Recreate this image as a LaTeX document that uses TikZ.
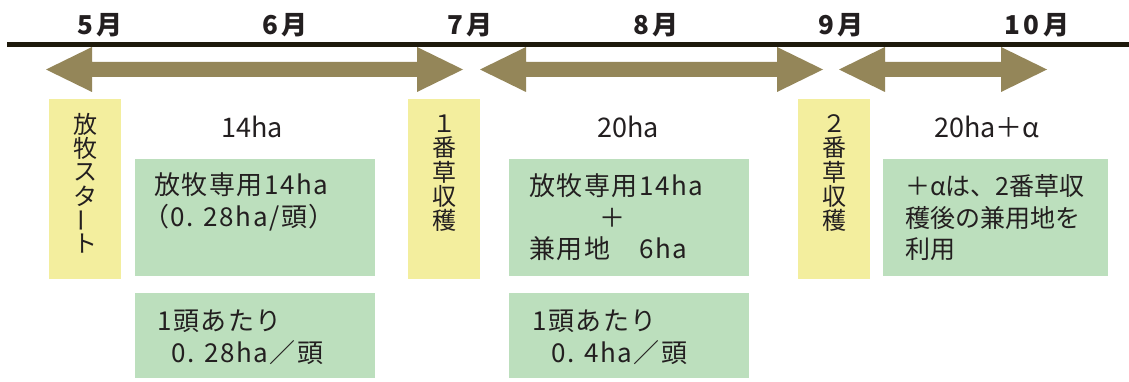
\documentclass[tikz,border=0pt]{standalone}
\usepackage{fontspec}
\usepackage{graphicx}
\newfontfamily\jp{Noto Sans CJK JP}
\newfontfamily\jpsp{Noto Sans CJK JP}[LetterSpace=6]
\newfontfamily\jpm{Noto Sans CJK JP}[LetterSpace=15]
\definecolor{arrowc}{RGB}{148,134,89}
\definecolor{ybg}{RGB}{243,238,158}
\definecolor{gbg}{RGB}{188,223,189}
\definecolor{txt}{RGB}{35,31,32}
\definecolor{linec}{RGB}{30,26,12}
\newcommand\tlarrow[2]{%
  \fill[arrowc] (#1,69.5) -- (#1+46,47) -- (#1+46,62) -- (#2-46,62) -- (#2-46,47)
    -- (#2,69.5) -- (#2-46,92) -- (#2-46,77) -- (#1+46,77) -- (#1+46,92) -- cycle;}
\begin{document}
\begin{tikzpicture}[x=1pt,y=-1pt,
  month/.style={font=\jpm\bfseries\fontsize{26}{26}\selectfont, text=txt, inner sep=0pt, anchor=base},
  ybox/.style={fill=ybg, draw=none, minimum width=72pt, minimum height=180pt, inner sep=0pt},
  gbox/.style={fill=gbg, draw=none, minimum width=240pt, inner sep=0pt},
  vchar/.style={font=\jp\fontsize{24}{24}\selectfont, text=txt, inner sep=0pt},
  title/.style={font=\jp\fontsize{27}{27}\selectfont, text=txt, inner sep=0pt, anchor=base},
  gtext/.style={font=\jpsp\fontsize{26}{31}\selectfont, text=txt, inner sep=0pt, anchor=base west},
  gtextb/.style={font=\jp\fontsize{25}{31}\selectfont, text=txt, inner sep=0pt, anchor=base west},
  btext/.style={font=\jpsp\fontsize{26}{30}\selectfont, text=txt, inner sep=0pt, anchor=base west}]
\useasboundingbox[fill=white] (0,0) rectangle (1129,382);
% timeline
\draw[linec, line width=4.4pt] (7,44.5) -- (1129,44.5);
% months
\node[month] (m5) at (100,35) {5月};
\node[month] (m6) at (285,35) {6月};
\node[month] (m7) at (470,35) {7月};
\node[month] (m8) at (656,35) {8月};
\node[month] (m9) at (841,35) {9月};
\node[month] (m10) at (1037,35) {10月};
% arrows
\tlarrow{46}{463}
\tlarrow{480}{823}
\tlarrow{839}{1047}
% yellow boxes
\node[ybox] (y1) at (85,189) {};
\node[ybox] (y2) at (444,189) {};
\node[ybox] (y3) at (834,189) {};
\foreach \c [count=\i] in {放,牧,ス,タ,{\rotatebox[origin=c]{90}{ー}},ト}
  \node[vchar] (va\i) at (85,100+24*\i) {\c};
\foreach \c [count=\i] in {１,番,草,収,穫}
  \node[vchar] (vb\i) at (444,100+24*\i) {\c};
\foreach \c [count=\i] in {２,番,草,収,穫}
  \node[vchar] (vc\i) at (834,100+24*\i) {\c};
% titles
\node[title] (t1) at (252,138) {14ha};
\node[title] (t2) at (628,138) {20ha};
\node[title] (t3) at (987,138) {20ha＋α};
% green boxes
\node[gbox, minimum height=117pt] (g1) at (255,217.5) {};
\node[gbox, minimum height=117pt] (g2) at (629,217.5) {};
\node[gbox, minimum width=225pt, minimum height=117pt] (g5) at (995.5,217.5) {};
\node[gbox, minimum height=85pt] (g3) at (255,335.5) {};
\node[gbox, minimum height=85pt] (g4) at (629,335.5) {};
% green box texts
\node[gtext] (g1a) at (154,195) {放牧専用14ha};
\node[gtext] (g1b) at (143,226) {（0. 28ha/頭）};
\node[gtext] (g2a) at (529,196) {放牧専用14ha};
\node[gtext, anchor=base] (g2b) at (612,227) {＋};
\node[gtext] (g2c) at (529,258) {兼用地　6ha};
\node[gtextb] (g5a) at (905,195.5) {＋αは、2番草収};
\node[gtextb] (g5b) at (905,227) {穫後の兼用地を};
\node[gtextb] (g5c) at (905,258) {利用};
\node[btext] (g3a) at (157,330.5) {1頭あたり};
\node[btext] (g3b) at (171,362) {0. 28ha／頭};
\node[btext] (g4a) at (532,330.5) {1頭あたり};
\node[btext] (g4b) at (551,362) {0. 4ha／頭};
\end{tikzpicture}
\end{document}
